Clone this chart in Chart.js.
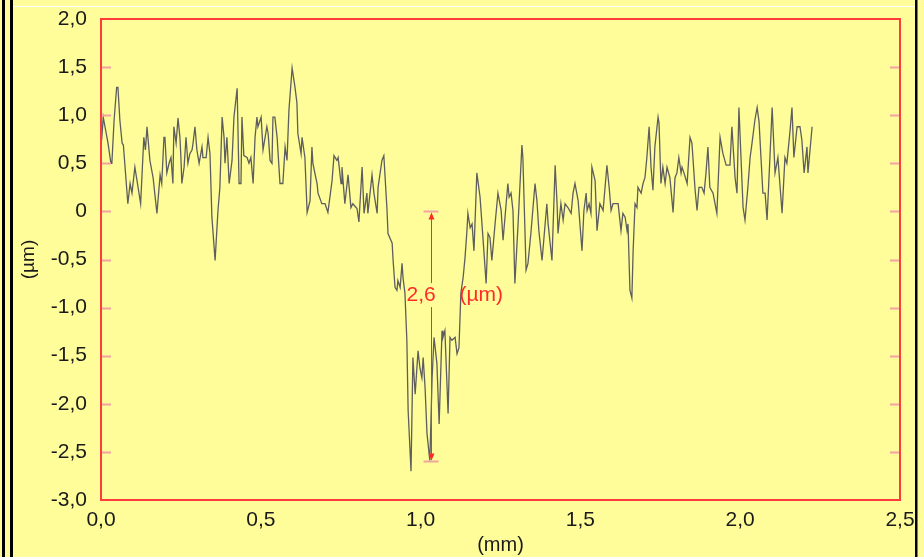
<!DOCTYPE html>
<html>
<head>
<meta charset="utf-8">
<script src="https://cdn.jsdelivr.net/npm/chart.js@4"></script>
<style>
  body { margin: 0; background: #fefd9a; }
  canvas { display: block; }
</style>
</head>
<body>
<canvas id="profileChart" width="924" height="557"></canvas>
<script>
// profile data (mm / µm)
const xs = [0.002, 0.007, 0.022, 0.031, 0.034, 0.041, 0.049, 0.053, 0.059, 0.066, 0.070, 0.084, 0.091, 0.097, 0.106, 0.124, 0.134, 0.139, 0.144, 0.153,
    0.163, 0.175, 0.185, 0.190, 0.197, 0.200, 0.206, 0.213, 0.219, 0.225, 0.228, 0.235, 0.241, 0.247, 0.250, 0.253, 0.260, 0.266, 0.272, 0.278,
    0.285, 0.288, 0.294, 0.300, 0.307, 0.316, 0.319, 0.329, 0.335, 0.341, 0.347, 0.357, 0.366, 0.372, 0.379, 0.385, 0.388, 0.394, 0.401, 0.410,
    0.416, 0.426, 0.432, 0.438, 0.441, 0.447, 0.457, 0.463, 0.469, 0.476, 0.482, 0.488, 0.491, 0.501, 0.507, 0.519, 0.523, 0.529, 0.535, 0.538,
    0.544, 0.551, 0.560, 0.569, 0.576, 0.582, 0.588, 0.598, 0.607, 0.613, 0.616, 0.626, 0.629, 0.638, 0.645, 0.654, 0.660, 0.663, 0.676, 0.679,
    0.691, 0.701, 0.710, 0.723, 0.729, 0.738, 0.742, 0.751, 0.754, 0.763, 0.773, 0.782, 0.788, 0.801, 0.807, 0.817, 0.823, 0.832, 0.835, 0.848,
    0.854, 0.864, 0.867, 0.879, 0.885, 0.895, 0.898, 0.911, 0.914, 0.920, 0.926, 0.929, 0.936, 0.942, 0.945, 0.951, 0.957, 0.961, 0.970, 0.976,
    0.983, 0.992, 0.998, 1.004, 1.008, 1.014, 1.020, 1.029, 1.036, 1.042, 1.051, 1.058, 1.067, 1.070, 1.076, 1.086, 1.092, 1.098, 1.108, 1.114,
    1.120, 1.126, 1.133, 1.139, 1.145, 1.148, 1.155, 1.161, 1.167, 1.176, 1.186, 1.195, 1.205, 1.211, 1.217, 1.223, 1.233, 1.242, 1.252, 1.258,
    1.273, 1.277, 1.283, 1.289, 1.295, 1.305, 1.317, 1.320, 1.330, 1.336, 1.345, 1.358, 1.364, 1.370, 1.380, 1.395, 1.399, 1.411, 1.421, 1.427,
    1.430, 1.439, 1.446, 1.452, 1.461, 1.471, 1.477, 1.483, 1.493, 1.505, 1.511, 1.518, 1.521, 1.527, 1.533, 1.536, 1.546, 1.552, 1.561, 1.571,
    1.583, 1.590, 1.596, 1.602, 1.611, 1.618, 1.627, 1.633, 1.640, 1.646, 1.649, 1.655, 1.661, 1.665, 1.671, 1.677, 1.680, 1.690, 1.696, 1.702,
    1.708, 1.715, 1.721, 1.727, 1.733, 1.743, 1.746, 1.752, 1.758, 1.765, 1.771, 1.780, 1.790, 1.796, 1.802, 1.808, 1.815, 1.818, 1.824, 1.834,
    1.843, 1.849, 1.859, 1.865, 1.871, 1.880, 1.887, 1.893, 1.899, 1.905, 1.915, 1.927, 1.937, 1.946, 1.956, 1.968, 1.974, 1.984, 1.990, 1.996,
    2.009, 2.015, 2.024, 2.031, 2.037, 2.046, 2.053, 2.059, 2.065, 2.071, 2.078, 2.084, 2.093, 2.100, 2.109, 2.118, 2.131, 2.140, 2.146, 2.156,
    2.162, 2.168, 2.178, 2.187, 2.193, 2.200, 2.209, 2.212, 2.225]

const ys = [0.74, 0.98, 0.71, 0.50, 0.50, 0.95, 1.29, 1.29, 0.95, 0.71, 0.69, 0.08, 0.29, 0.19, 0.46, 0.08, 0.77, 0.64, 0.88, 0.53,
    0.35, -0.02, 0.38, 0.29, 0.77, 0.77, 0.40, 0.50, 0.56, 0.29, 0.88, 0.71, 0.97, 0.77, 0.56, 0.29, 0.46, 0.77, 0.50, 0.60,
    0.64, 0.71, 0.88, 0.64, 0.50, 0.67, 0.56, 0.56, 0.77, 0.60, -0.06, -0.51, 0.01, 0.25, 0.98, 0.77, 0.50, 0.77, 0.29, 0.53,
    0.98, 1.28, 0.29, 0.29, 0.98, 0.58, 0.56, 0.50, 0.56, 0.29, 0.77, 0.98, 0.88, 0.98, 0.64, 0.88, 0.81, 0.53, 0.50, 0.98,
    0.98, 0.77, 0.29, 0.29, 0.67, 0.53, 1.05, 1.49, 1.29, 1.13, 0.81, 0.60, 0.77, 0.56, -0.01, 0.11, 0.67, 0.50, 0.29, 0.19,
    0.08, 0.08, -0.01, 0.32, 0.58, 0.53, 0.56, 0.29, 0.46, 0.08, 0.38, 0.04, 0.08, 0.03, -0.11, 0.46, -0.02, 0.19, -0.02, 0.38,
    0.19, -0.02, 0.25, 0.53, 0.58, 0.01, -0.23, -0.33, -0.51, -0.79, -0.82, -0.72, -0.79, -0.54, -0.69, -0.85, -1.34, -2.07, -2.70, -1.52,
    -1.90, -1.45, -1.63, -1.73, -1.52, -1.83, -2.31, -2.59, -1.73, -1.31, -1.58, -2.21, -1.24, -1.31, -1.24, -2.10, -1.31, -1.34, -1.31, -1.48,
    -1.42, -0.85, -0.69, -0.48, -0.20, -0.02, -0.17, -0.13, -0.41, 0.40, 0.15, -0.27, -0.75, -0.23, -0.27, -0.51, -0.13, 0.19, 0.01, -0.30,
    0.29, 0.15, 0.19, 0.01, -0.75, -0.13, 0.69, 0.56, -0.61, -0.54, -0.23, 0.29, 0.11, -0.20, -0.51, 0.08, -0.13, -0.51, 0.48, 0.08,
    -0.23, 0.08, -0.09, 0.08, 0.04, -0.02, 0.19, 0.29, 0.11, -0.41, 0.01, 0.19, 0.01, 0.08, -0.02, 0.46, 0.32, -0.20, 0.08, 0.01,
    0.48, 0.25, 0.01, 0.08, 0.08, 0.08, -0.20, -0.02, -0.06, -0.20, -0.13, -0.82, -0.90, -0.41, 0.08, 0.04, 0.25, 0.19, 0.29, 0.35,
    0.56, 0.88, 0.46, 0.22, 0.67, 0.98, 0.92, 0.29, 0.46, 0.29, 0.46, 0.35, -0.01, 0.35, 0.40, 0.56, 0.40, 0.46, 0.40, 0.29,
    0.77, 0.71, 0.22, 0.01, 0.25, 0.25, 0.19, 0.40, 0.67, 0.25, 0.19, -0.02, 0.77, 0.60, 0.48, 0.48, 0.88, 0.35, 0.19, 1.08,
    0.04, -0.09, 0.25, 0.56, 0.71, 0.95, 1.08, 0.93, 0.56, 0.19, 0.19, -0.09, 0.56, 1.08, 0.40, 0.56, -0.02, 0.56, 0.50, 0.84,
    1.08, 0.56, 0.88, 0.88, 0.74, 0.40, 0.67, 0.40, 0.88]

const xTicks = [0, 0.5, 1.0, 1.5, 2.0, 2.5]
const xTickLabels = ['0,0', '0,5', '1,0', '1,5', '2,0', '2,5']
const yTicks = [2.0, 1.5, 1.0, 0.5, 0, -0.5, -1.0, -1.5, -2.0, -2.5, -3.0]
const yTickLabels = ['2,0', '1,5', '1,0', '0,5', '0', '-0,5', '-1,0', '-1,5', '-2,0', '-2,5', '-3,0']

// depth measurement marker
const measureX = 1.033
const measureTop = 0
const measureBottom = -2.6
const measureLabelY = -0.87
const measureValueLabel = '2,6'
const measureUnitLabel = '(µm)'

const bgYellow = '#fefd9a'
const fontName = '"Liberation Sans", Arial, sans-serif'

const framePlugin = {
    id: 'frame',
    beforeDraw(chart) {
        const ctx = chart.ctx
        ctx.save()
        ctx.fillStyle = bgYellow
        ctx.fillRect(0, 0, chart.width, chart.height)
        ctx.restore()
    },
    afterDatasetsDraw(chart) {
        const ctx = chart.ctx
        const a = chart.chartArea
        const xS = chart.scales.x
        const yS = chart.scales.y
        ctx.save()

        // small inner ticks, left and right
        ctx.strokeStyle = '#f3a3a0'
        ctx.lineWidth = 2
        yTicks.forEach(v => {
            if (v === yS.min || v === yS.max) return
            const py = Math.round(yS.getPixelForValue(v)) + 0.5
            ctx.beginPath()
            ctx.moveTo(a.left, py); ctx.lineTo(a.left + 10, py)
            ctx.moveTo(a.right - 10, py); ctx.lineTo(a.right, py)
            ctx.stroke()
        })

        // red plot border
        ctx.strokeStyle = '#ff3b3b'
        ctx.lineWidth = 2
        ctx.strokeRect(a.left, a.top, a.right - a.left, a.bottom - a.top)

        // measurement
        const mx = Math.round(xS.getPixelForValue(measureX)) + 0.5
        const y0 = yS.getPixelForValue(measureTop)
        const y1 = yS.getPixelForValue(measureBottom)
        const ly = yS.getPixelForValue(measureLabelY)
        ctx.strokeStyle = '#f3a3a0'
        ctx.lineWidth = 2
        ctx.beginPath()
        ctx.moveTo(mx - 8, y0); ctx.lineTo(mx + 7, y0)
        ctx.moveTo(mx - 8, y1); ctx.lineTo(mx + 7, y1)
        ctx.stroke()
        ctx.strokeStyle = '#ff2a2a'
        ctx.lineWidth = 1
        ctx.beginPath()
        ctx.moveTo(mx, y0 + 2); ctx.lineTo(mx, ly - 12)
        ctx.moveTo(mx, ly + 12); ctx.lineTo(mx, y1 - 2)
        ctx.stroke()
        ctx.fillStyle = '#ff2a2a'
        ctx.beginPath()
        ctx.moveTo(mx, y0 + 1); ctx.lineTo(mx - 3, y0 + 8); ctx.lineTo(mx + 3, y0 + 8); ctx.closePath()
        ctx.moveTo(mx, y1 - 1); ctx.lineTo(mx - 3, y1 - 8); ctx.lineTo(mx + 3, y1 - 8); ctx.closePath()
        ctx.fill()
        ctx.font = '21px ' + fontName
        ctx.textAlign = 'left'
        ctx.textBaseline = 'middle'
        ctx.fillText(measureValueLabel, mx - 25, ly)
        ctx.fillText(measureUnitLabel, mx + 28, ly)
        ctx.restore()
    },
    afterDraw(chart) {
        const ctx = chart.ctx
        ctx.save()
        // outer window frame
        ctx.fillStyle = bgYellow
        ctx.fillRect(917, 0, chart.width - 917, chart.height)
        ctx.fillStyle = '#000'
        ctx.fillRect(2, 0, 3, chart.height)
        ctx.fillRect(10, 0, 3, chart.height)
        ctx.fillRect(915, 0, 2.5, chart.height)
        ctx.fillStyle = '#ffffff'
        ctx.fillRect(13, 6, 902, 1)
        ctx.restore()
    }
}

const config = {
    type: 'line',
    data: {
        datasets: [{
            data: xs.map((x, i) => ({ x: x, y: ys[i] })),
            borderColor: '#5e5e5e',
            borderWidth: 1.3,
            pointRadius: 0,
            tension: 0,
            fill: false
        }]
    },
    options: {
        responsive: false,
        animation: false,
        layout: { padding: { top: 19, right: 24, left: 0, bottom: 0 } },
        plugins: {
            legend: { display: false },
            tooltip: { enabled: false }
        },
        scales: {
            x: {
                type: 'linear',
                min: 0,
                max: 2.5,
                afterBuildTicks: s => { s.ticks = xTicks.map(v => ({ value: v })) },
                afterFit: s => {
                    s.height = 57
                    s.paddingLeft = 0
                    s.paddingRight = 0
                },
                grid: { display: false, drawTicks: false },
                border: { display: false },
                ticks: {
                    autoSkip: false,
                    maxRotation: 0,
                    padding: 8,
                    color: '#1a1a1a',
                    font: { family: fontName, size: 21 },
                    callback: (v, i) => xTickLabels[i]
                },
                title: {
                    display: true,
                    text: '(mm)',
                    color: '#1a1a1a',
                    font: { family: fontName, size: 20 },
                    padding: 0
                }
            },
            y: {
                type: 'linear',
                min: -3,
                max: 2,
                afterBuildTicks: s => { s.ticks = yTicks.map(v => ({ value: v })) },
                afterFit: s => {
                    s.width = 101
                    s.paddingTop = 0
                    s.paddingBottom = 0
                },
                grid: { display: false, drawTicks: false },
                border: { display: false },
                ticks: {
                    autoSkip: false,
                    padding: 14,
                    color: '#1a1a1a',
                    font: { family: fontName, size: 21 },
                    callback: (v, i) => yTickLabels[i]
                },
                title: {
                    display: true,
                    text: '(µm)',
                    color: '#1a1a1a',
                    font: { family: fontName, size: 19 },
                    padding: { top: 17, bottom: 0 }
                }
            }
        }
    },
    plugins: [framePlugin]
}

const profileChart = new Chart(
    document.getElementById('profileChart'),
    config
)
</script>
</body>
</html>
